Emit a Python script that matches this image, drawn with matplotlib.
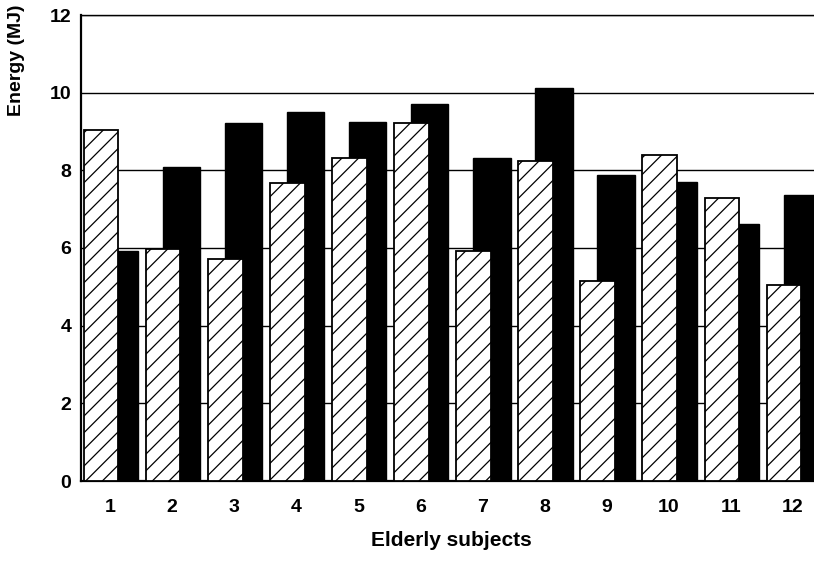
import matplotlib
matplotlib.use("Agg")
import matplotlib.pyplot as plt
import numpy as np

subjects = [1, 2, 3, 4, 5, 6, 7, 8, 9, 10, 11, 12]
hatched_vals = [9.05, 5.98, 5.71, 7.68, 8.32, 9.21, 5.92, 8.24, 5.15, 8.40, 7.28, 5.04]
black_vals = [5.93, 8.09, 9.21, 9.51, 9.24, 9.72, 8.33, 10.11, 7.89, 7.70, 6.61, 7.36]
y_ticks = [0, 2, 4, 6, 8, 10, 12]

plt.rcParams['font.family'] = ['Liberation Sans', 'DejaVu Sans']
plt.rcParams['hatch.linewidth'] = 0.9

fig = plt.figure(figsize=(8.14, 5.61), dpi=100)
ax = fig.add_axes([81/814, 80/561, 740/814, 466/561])

x = np.array(subjects, dtype=float)
ax.bar(x + 0.15, black_vals, width=0.60, color='black', edgecolor='black',
       linewidth=1.0, zorder=2)
ax.bar(x - 0.145, hatched_vals, width=0.56, color='white', edgecolor='black',
       hatch='//', linewidth=1.3, zorder=3)

ax.set_xlim(0.533, 12.45)
ax.set_ylim(0, 12)
ax.set_yticks(y_ticks)
ax.set_xticks(subjects)
ax.yaxis.grid(True, color='black', linewidth=1.0)
ax.set_axisbelow(True)

ax.spines['right'].set_visible(False)
ax.spines['top'].set_linewidth(1.0)
ax.spines['left'].set_linewidth(1.6)
ax.spines['bottom'].set_linewidth(1.6)

ax.tick_params(axis='both', length=0, labelsize=14)
ax.tick_params(axis='y', pad=7)
ax.tick_params(axis='x', pad=13)
for lab in ax.get_xticklabels() + ax.get_yticklabels():
    lab.set_fontweight('bold')

ax.set_xlabel('Elderly subjects', fontsize=15, fontweight='bold', labelpad=11)
fig.text(17/814, 1 - 60/561, 'Energy (MJ)', rotation=90, ha='center', va='center',
         fontsize=14, fontweight='bold')

fig.savefig('out.png', dpi=100)
